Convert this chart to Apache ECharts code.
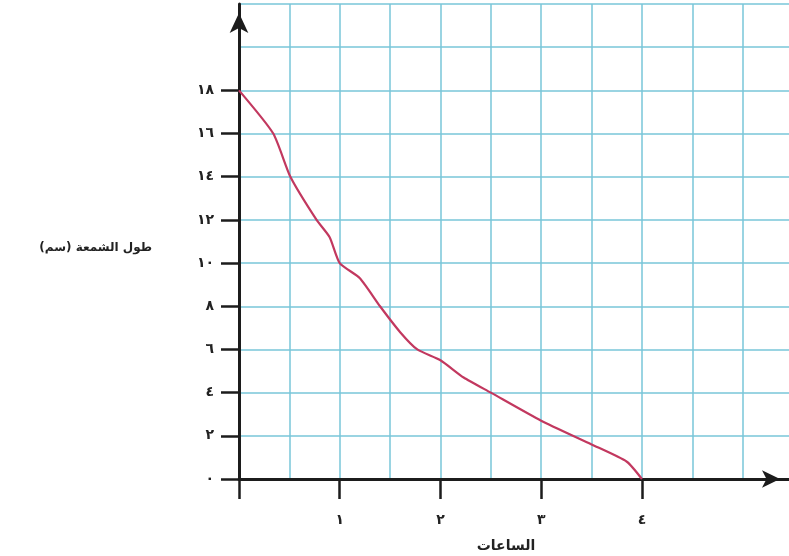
<!DOCTYPE html>
<html>
<head>
<meta charset="utf-8">
<script src="https://cdn.jsdelivr.net/npm/echarts@6/dist/echarts.min.js"></script>
<style>
  html, body { margin: 0; padding: 0; background: #fff; }
  #chart { width: 789px; height: 556px; }
</style>
</head>
<body>
<div id="chart"></div>
<script>
// القيم المقروءة من الرسم: الساعات وطول الشمعة (سم)
const hours   = [0, 0.34, 0.51, 0.77, 0.9, 1.0, 1.2, 1.4, 1.6, 1.77, 2.0, 2.23, 2.5, 3.0, 3.5, 3.85, 4.0];
const lengths = [18, 16, 14, 12, 11.2, 10, 9.3, 8, 6.8, 6, 5.5, 4.7, 4, 2.7, 1.6, 0.8, 0];

// تسميات المحاور
const xTickValues = [0, 1, 2, 3, 4];
const xTickLabels = ['', '١', '٢', '٣', '٤'];
const yTickValues = [0, 2, 4, 6, 8, 10, 12, 14, 16, 18];
const yTickLabels = ['٠', '٢', '٤', '٦', '٨', '١٠', '١٢', '١٤', '١٦', '١٨'];
const xName = 'الساعات';
const yName = 'طول الشمعة (سم)';

const seriesData = [];
for (let i = 0; i < hours.length; i++) {
    seriesData.push([hours[i], lengths[i]]);
}

const font = 'DejaVu Sans';
const axisColor = '#1c1c1c';
const gridColor = '#78c6d8';

const chart = echarts.init(document.getElementById('chart'));

chart.setOption({
    backgroundColor: '#ffffff',
    animation: false,
    grid: { left: 239, right: 0, top: 4, bottom: 77, outerBoundsMode: 'none' },
    xAxis: [
        {
            // شبكة نصف ساعة
            type: 'value',
            min: 0,
            max: 5.46,
            interval: 0.5,
            position: 'bottom',
            axisLine: { show: false },
            axisTick: { show: false },
            axisLabel: { show: false },
            splitLine: { show: true, showMinLine: false, showMaxLine: false, lineStyle: { color: gridColor, width: 1.5 } },
            z: 1
        },
        {
            type: 'value',
            min: 0,
            max: 5.46,
            position: 'bottom',
            name: xName,
            nameLocation: 'middle',
            nameGap: 60,
            nameTextStyle: { fontFamily: font, fontWeight: 'bold', fontSize: 14, color: '#222', padding: [0, 16, 0, 0] },
            axisLine: {
                onZero: false,
                lineStyle: { color: axisColor, width: 3 },
                symbol: ['none', 'arrow'],
                symbolSize: [13, 18],
                symbolOffset: [0, -9]
            },
            axisTick: {
                customValues: xTickValues,
                length: 20,
                lineStyle: { color: axisColor, width: 2.5 }
            },
            axisLabel: {
                customValues: xTickValues,
                margin: 34,
                fontFamily: font,
                fontWeight: 'bold',
                fontSize: 14,
                color: '#222',
                formatter: function (v) {
                    const i = xTickValues.indexOf(v);
                    return i >= 0 ? xTickLabels[i] : '';
                }
            },
            splitLine: { show: false },
            z: 3
        }
    ],
    yAxis: [
        {
            type: 'value',
            min: 0,
            max: 22,
            interval: 2,
            position: 'left',
            axisLine: { show: false },
            axisTick: { show: false },
            axisLabel: { show: false },
            splitLine: { show: true, showMinLine: false, lineStyle: { color: gridColor, width: 1.5 } },
            z: 1
        },
        {
            type: 'value',
            min: 0,
            max: 22,
            position: 'left',
            name: yName,
            nameLocation: 'middle',
            nameRotate: 0,
            nameGap: 87,
            nameTextStyle: { fontFamily: font, fontWeight: 'bold', fontSize: 12, color: '#222', align: 'right', verticalAlign: 'top' },
            axisLine: {
                onZero: false,
                lineStyle: { color: axisColor, width: 3 },
                symbol: ['none', 'arrow'],
                symbolSize: [14, 20],
                symbolOffset: [0, -9]
            },
            axisTick: {
                customValues: yTickValues,
                length: 18,
                lineStyle: { color: axisColor, width: 2.5 }
            },
            axisLabel: {
                customValues: yTickValues,
                margin: 25,
                fontFamily: font,
                fontWeight: 'bold',
                fontSize: 14,
                color: '#222',
                formatter: function (v) {
                    const i = yTickValues.indexOf(v);
                    return i >= 0 ? yTickLabels[i] : '';
                }
            },
            splitLine: { show: false },
            z: 3
        }
    ],
    series: [
        {
            type: 'line',
            xAxisIndex: 0,
            yAxisIndex: 0,
            data: seriesData,
            smooth: 0.2,
            showSymbol: false,
            lineStyle: { color: '#c2385f', width: 2.2 },
            z: 5
        }
    ]
});
</script>
</body>
</html>
